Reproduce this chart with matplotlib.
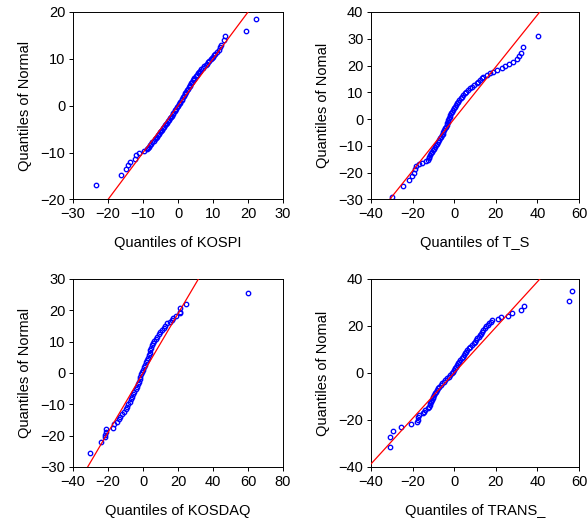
import matplotlib
matplotlib.use('Agg')
import matplotlib.pyplot as plt

plt.rcParams['font.family'] = ['Liberation Sans', 'DejaVu Sans']

# (sample quantile, normal quantile) pairs for each series
kospi = [
    (-23.3, -17.0), (-16.3, -14.7), (-14.8, -13.6), (-14.3, -12.7), (-13.7, -12.1),
    (-12.4, -11.3), (-12.1, -10.6), (-11.2, -10.1), (-9.8, -9.7),
    (-8.8, -9.3), (-8.5, -9.0), (-8.2, -8.7), (-7.9, -8.4), (-7.6, -8.1), (-7.3, -7.8),
    (-7.0, -7.5), (-6.7, -7.2), (-6.4, -6.9), (-6.1, -6.6), (-5.8, -6.3), (-5.5, -6.0),
    (-5.2, -5.7), (-4.9, -5.4), (-4.6, -5.1), (-4.3, -4.8), (-4.0, -4.5), (-3.7, -4.2),
    (-3.4, -3.9), (-3.1, -3.6), (-2.8, -3.3), (-2.5, -3.0), (-2.3, -2.7), (-2.0, -2.4),
    (-1.8, -2.1), (-1.5, -1.8), (-1.3, -1.5), (-1.0, -1.2), (-0.8, -0.9), (-0.5, -0.6),
    (-0.3, -0.3), (0.0, 0.0), (0.2, 0.3), (0.5, 0.6), (0.7, 0.9), (1.0, 1.2), (1.2, 1.5),
    (1.4, 1.8), (1.7, 2.1), (1.9, 2.4), (2.1, 2.7), (2.3, 3.0), (2.6, 3.3), (2.8, 3.6),
    (3.0, 3.9), (3.3, 4.2), (3.5, 4.5), (3.7, 4.8), (4.0, 5.1), (4.2, 5.4), (4.5, 5.7),
    (4.7, 6.0), (5.0, 6.3), (5.3, 6.6), (5.7, 6.9), (6.0, 7.2), (6.3, 7.5), (6.6, 7.8),
    (7.1, 8.1), (7.5, 8.4), (7.9, 8.7), (8.2, 9.0), (8.6, 9.3), (8.9, 9.6), (9.3, 9.9),
    (9.6, 10.2), (9.9, 10.5), (10.3, 10.8), (10.7, 11.1), (11.0, 11.4),
    (11.6, 11.9), (12.1, 12.6), (12.2, 13.0), (13.1, 14.1), (13.3, 14.8),
    (19.5, 16.0), (22.2, 18.4),
]

t_s = [
    (-30.0, -28.9), (-24.4, -24.8), (-21.5, -22.9), (-20.4, -21.4), (-19.1, -20.1),
    (-18.8, -18.5), (-18.5, -17.5), (-16.9, -16.9), (-15.3, -16.3), (-13.7, -15.7),
    (-12.4, -15.2), (-12.2, -14.6),
    (-12.0, -14.0), (-11.6, -13.4), (-11.2, -12.8), (-10.8, -12.2), (-10.3, -11.6),
    (-9.8, -11.0), (-9.2, -10.3), (-8.7, -9.7), (-8.2, -9.1), (-7.7, -8.5), (-7.3, -7.9),
    (-6.8, -7.2), (-6.4, -6.6), (-6.0, -6.0), (-5.6, -5.4), (-5.2, -4.7), (-4.8, -4.1),
    (-4.4, -3.4), (-4.0, -2.8), (-3.6, -2.2), (-3.3, -1.6), (-3.0, -0.9), (-2.8, -0.3),
    (-2.5, 0.3), (-2.2, 0.9), (-1.9, 1.5), (-1.5, 2.2), (-1.2, 2.8), (-0.8, 3.4),
    (-0.3, 4.0), (0.2, 4.7), (0.7, 5.3), (1.2, 5.9), (1.8, 6.5), (2.4, 7.1), (3.1, 7.8),
    (3.8, 8.4), (4.4, 9.0), (5.1, 9.6), (5.9, 10.3), (6.7, 10.9), (7.6, 11.5), (8.6, 12.1),
    (9.7, 12.8), (10.8, 13.4), (11.6, 14.0), (12.4, 14.6), (13.2, 15.3), (14.0, 15.9),
    (15.6, 16.5), (17.2, 17.1),
    (18.9, 17.5), (20.5, 18.4), (22.9, 19.0), (24.2, 19.8), (26.6, 20.6), (28.5, 21.5),
    (30.1, 22.3), (31.3, 23.4), (32.2, 24.8), (33.0, 27.1), (40.3, 31.0),
]

kosdaq = [
    (-30.1, -25.5), (-23.8, -22.1), (-22.0, -20.3), (-21.5, -19.8), (-20.9, -18.7),
    (-21.3, -17.9), (-17.1, -17.4), (-16.7, -16.4), (-14.8, -15.5), (-13.8, -14.7),
    (-13.0, -13.9), (-11.8, -13.1), (-10.6, -12.3), (-9.7, -11.5), (-9.1, -10.8),
    (-8.4, -10.0), (-7.7, -9.2), (-7.0, -8.4), (-6.3, -7.6), (-5.6, -6.8), (-4.9, -6.0),
    (-4.1, -5.2), (-3.4, -4.4), (-2.9, -3.6), (-2.4, -2.8), (-2.0, -2.0), (-1.5, -1.2),
    (-1.0, -0.4), (-0.4, 0.3), (0.2, 1.1), (0.7, 1.9), (1.3, 2.6), (1.8, 3.4), (2.3, 4.2),
    (2.7, 4.9), (3.2, 5.7), (3.7, 6.5), (4.2, 7.3), (4.6, 8.1), (5.1, 8.9), (5.8, 9.6),
    (6.5, 10.3), (7.2, 11.0), (8.0, 11.6), (9.0, 12.3), (9.9, 13.0), (10.9, 13.7),
    (11.8, 14.4), (12.7, 15.1), (13.7, 15.9), (15.2, 16.4), (16.6, 16.9),
    (17.3, 17.4), (18.7, 18.3), (21.2, 19.0), (21.3, 19.6), (21.0, 20.6), (24.4, 22.0),
    (60.1, 25.6),
]

trans = [
    (-30.9, -31.5), (-30.7, -27.1), (-29.2, -24.7), (-25.6, -23.1), (-20.7, -21.8),
    (-17.7, -21.0), (-17.5, -20.0), (-17.2, -18.9), (-16.9, -17.9),
    (-15.2, -17.2), (-14.6, -16.5), (-13.8, -15.8), (-12.8, -15.0), (-12.2, -14.3),
    (-11.8, -13.6), (-11.4, -12.9), (-11.1, -12.2), (-10.8, -11.5), (-10.4, -10.8),
    (-10.0, -10.1), (-9.6, -9.4), (-9.2, -8.6), (-8.8, -7.9), (-8.3, -7.2), (-7.8, -6.5),
    (-7.2, -5.8), (-6.4, -5.1), (-5.7, -4.4), (-5.0, -3.7), (-4.2, -3.0), (-3.4, -2.3),
    (-2.6, -1.6), (-1.9, -0.9), (-1.2, -0.2), (-0.6, 0.6), (0.0, 1.3), (0.5, 2.0),
    (1.0, 2.7), (1.4, 3.4), (1.8, 4.1), (2.4, 4.8), (3.0, 5.5), (3.6, 6.2), (4.1, 7.0),
    (4.6, 7.7), (5.1, 8.4), (5.7, 9.1), (6.2, 9.8), (6.9, 10.5), (7.7, 11.2), (8.6, 11.9),
    (9.4, 12.6), (9.9, 13.3), (10.4, 14.0), (11.0, 14.7), (11.7, 15.4), (12.4, 16.1),
    (13.0, 16.8), (13.5, 17.6), (14.1, 18.3), (14.7, 19.0), (15.4, 19.8), (16.1, 20.5),
    (16.8, 21.1), (17.5, 21.8), (18.1, 22.5),
    (21.3, 23.0), (22.6, 23.7), (26.1, 24.4), (27.7, 25.4), (32.2, 26.8), (33.8, 28.4),
    (55.3, 30.5), (56.8, 35.0),
]

series = [kospi, t_s, kosdaq, trans]
names = ['KOSPI', 'T_S', 'KOSDAQ', 'TRANS_']
ylabels = ['Quantiles of Normal', 'Quantiles of Nomal', 'Quantiles of Normal', 'Quantiles of Nomal']
# fitted reference lines (slope, intercept)
ref_lines = [(1.0, 0.0), (0.97, 0.1), (0.948, 0.0), (0.969, 0.05)]
xlims = [(-30, 30), (-40, 60), (-40, 80), (-40, 60)]
ylims = [(-20, 20), (-30, 40), (-30, 30), (-40, 40)]
xticks = [range(-30, 31, 10), range(-40, 61, 20), range(-40, 81, 20), range(-40, 61, 20)]
yticks = [range(-20, 21, 10), range(-30, 41, 10), range(-30, 31, 10), range(-40, 41, 20)]

# axes rectangles in figure fractions
rects = [
    [0.1244, 0.6193, 0.3578, 0.3578],
    [0.6320, 0.6193, 0.3543, 0.3578],
    [0.1244, 0.1088, 0.3578, 0.3588],
    [0.6320, 0.1088, 0.3543, 0.3588],
]

fig = plt.figure(figsize=(5.87, 5.24), dpi=100)

for i in range(4):
    ax = fig.add_axes(rects[i])
    qx = [p[0] for p in series[i]]
    qy = [p[1] for p in series[i]]
    slope, icpt = ref_lines[i]
    ax.axline((0, icpt), slope=slope, color='red', lw=0.9, zorder=3)
    ax.plot(qx, qy, 'o', ms=3.2, mfc='none', mec='blue', mew=0.95, zorder=2)
    ax.set_xlim(*xlims[i])
    ax.set_ylim(*ylims[i])
    ax.set_xticks(list(xticks[i]))
    ax.set_yticks(list(yticks[i]))
    ax.tick_params(direction='out', length=3, width=0.7, pad=2.5, labelsize=10.5,
                   top=False, right=False)
    for sp in ax.spines.values():
        sp.set_linewidth(0.7)
    ax.set_xlabel('Quantiles of ' + names[i], fontsize=10.5, labelpad=11)
    ax.set_ylabel(ylabels[i], fontsize=10.5, labelpad=6)

fig.savefig('out.png', dpi=100)
